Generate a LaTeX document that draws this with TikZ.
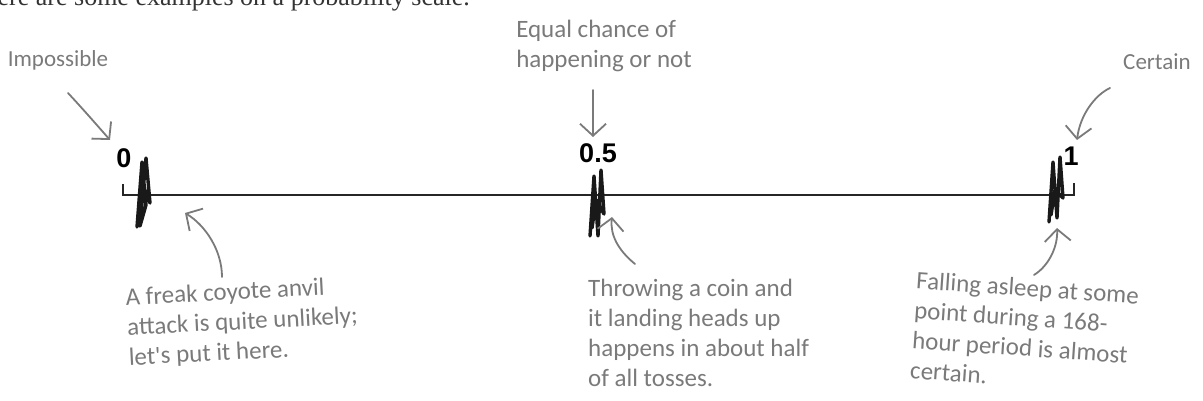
\documentclass[tikz,border=0pt]{standalone}
\usepackage{fontspec}
\setmainfont{Liberation Serif}
\newfontfamily\handfont{Carlito}
\newfontfamily\labfont{Liberation Sans}
\usetikzlibrary{arrows.meta}
\definecolor{anngray}{HTML}{7A7A7A}
\tikzset{
  ann/.style={font=\handfont\fontsize{25}{30}\selectfont, text=anngray, align=left, inner sep=0pt},
  annsmall/.style={ann, font=\handfont\fontsize{23}{28}\selectfont},
  annarrow/.style={draw=anngray, line width=1.8pt, line cap=round, line join=round,
     -{Straight Barb[length=12pt,width=26pt,line width=1.8pt]}},
  tick/.style={font=\labfont\bfseries\fontsize{27}{27}\selectfont, inner sep=0pt},
  scale line/.style={line width=1.8pt, draw=black!85},
  scribble/.style={line width=3.4pt, line cap=round, line join=round, draw=black!90}
}
\begin{document}
\begin{tikzpicture}[x=1pt,y=-1pt]
\useasboundingbox (0,0) rectangle (1203,401);
% cut-off caption line
\node[anchor=base east, inner sep=0pt, text=black!80] (caption) at (470,6) {\fontsize{26}{30}\selectfont Here are some examples on a probability scale.};
% scale
\coordinate (L0) at (123,184);
\coordinate (L1) at (123,195);
\coordinate (R1) at (1074,195);
\coordinate (R0) at (1074,183);
\draw[scale line] (L0) -- (L1) -- (R1) -- (R0);
% tick labels
\node[tick] (zero) at (124,158) {0};
\node[tick] (half) at (598,153) {0.5};
\node[tick] (one) at (1071,156) {1};
% scribble marks
\draw[scribble] (137,227) -- (142,162) -- (146,205) -- (140,226) -- (146,158) -- (150,203) -- (143,185) -- (139,215);
\draw[scribble] (590,236) -- (594,176) -- (598,236) -- (601,170) -- (604,214) -- (596,200) -- (592,228);
\draw[scribble] (1049,222) -- (1053,162) -- (1057,218) -- (1060,157) -- (1063,198) -- (1055,190) -- (1051,215);
% annotations
\node[annsmall, anchor=center] (imp) at (58,60) {Impossible};
\node[ann, anchor=center, align=left] (equal) at (604,46) {Equal chance of\\happening or not};
\node[annsmall, anchor=center] (cert) at (1157,62) {Certain};
\node[ann, anchor=north west, rotate=3] (coyote) at (125,288) {A freak coyote anvil\\attack is quite unlikely;\\let's put it here.};
\node[ann, anchor=north west] (coin) at (588,279) {Throwing a coin and\\it landing heads up\\happens in about half\\of all tosses.};
\node[ann, anchor=north west, rotate=-4] (fall) at (917,271) {Falling asleep at some\\point during a 168-\\hour period is almost\\certain.};
% arrow endpoints
\coordinate (impS) at (68,93);   \coordinate (impE) at (110,140);
\coordinate (eqS) at (593,90);   \coordinate (eqE) at (593,137);
\coordinate (ceS) at (1110,88);  \coordinate (ceE) at (1077,140);
\coordinate (coS) at (222,277);  \coordinate (coE) at (185,213);
\coordinate (cnS) at (635,264);  \coordinate (cnE) at (612,217);
\coordinate (faS) at (1034,275); \coordinate (faE) at (1057,228);
\draw[annarrow] (impS) .. controls (82,108) and (96,124) .. (impE);
\draw[annarrow] (eqS) -- (eqE);
\draw[annarrow] (ceS) .. controls (1095,95) and (1080,115) .. (ceE);
\draw[annarrow] (coS) .. controls (222,250) and (205,225) .. (coE);
\draw[annarrow] (cnS) .. controls (618,250) and (610,235) .. (cnE);
\draw[annarrow] (faS) .. controls (1050,265) and (1058,245) .. (faE);
\end{tikzpicture}
\end{document}
